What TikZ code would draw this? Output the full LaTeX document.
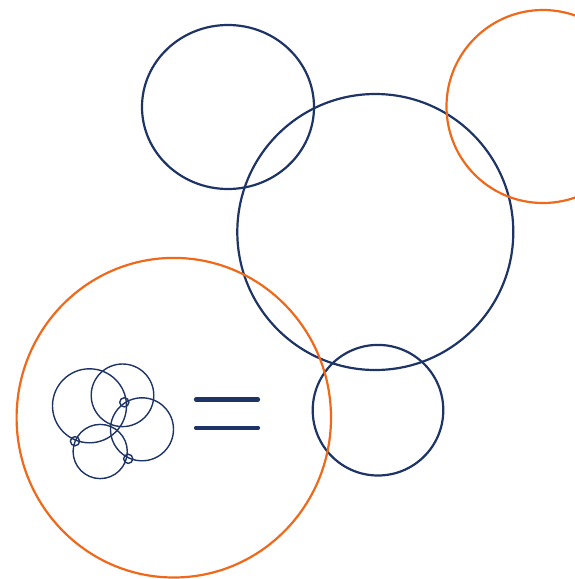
\documentclass[tikz,border=0pt]{standalone}
\definecolor{navy}{RGB}{30,52,102}
\definecolor{orng}{RGB}{240,104,26}
\tikzset{
  bigring/.style={line width=2.2pt},
  navyring/.style={bigring,draw=navy},
  orangering/.style={bigring,draw=orng},
  smallring/.style={line width=1.4pt,draw=navy},
  eqbar/.style={line width=4.2pt,draw=navy,line cap=round}
}
\begin{document}
\begin{tikzpicture}[x=1pt,y=-1pt]
\useasboundingbox (0,0) rectangle (575,579);
\clip (0,0) rectangle (575,579);
% large circles
\draw[navyring] (228,107) ellipse [x radius=86, y radius=82];
\draw[navyring] (375.3,232) circle [radius=138];
\draw[navyring] (378,410.2) circle [radius=65.3];
\draw[orangering] (543,106.5) circle [radius=96.5];
\draw[orangering] (173.8,417.7) ellipse [x radius=157.2, y radius=159.8];
% small cluster
\draw[smallring] (89.5,405.8) circle [radius=37];
\draw[smallring] (122.5,395.3) circle [radius=31.3];
\draw[smallring] (142,429.3) circle [radius=31.5];
\draw[smallring] (100.2,451.5) circle [radius=27.1];
\draw[smallring] (124.3,402.3) circle [radius=4.6];
\draw[smallring] (75,441.2) circle [radius=4.6];
\draw[smallring] (128.2,458.8) circle [radius=4.6];
% equals sign
\draw[eqbar] (196,399.5) -- (258,399.5);
\draw[eqbar] (196,427.8) -- (258,427.8);
\end{tikzpicture}
\end{document}
